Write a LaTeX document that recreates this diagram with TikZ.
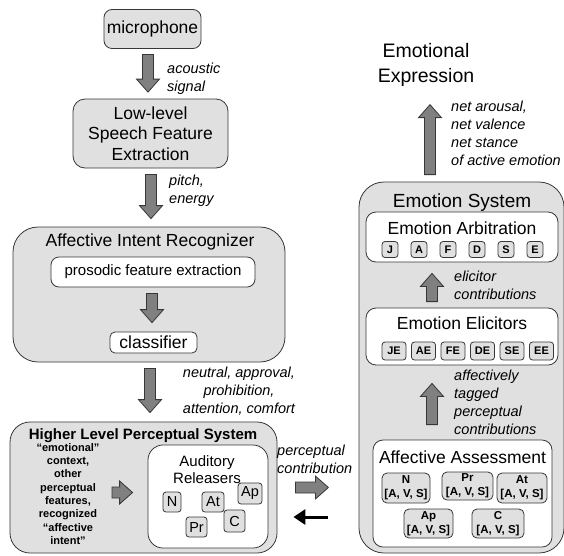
\documentclass[tikz,border=0pt]{standalone}
\usepackage{fontspec}
\setmainfont{Liberation Sans}
\usetikzlibrary{arrows.meta,calc,positioning}
\definecolor{boxgray}{RGB}{224,224,224}
\definecolor{arrowgray}{RGB}{128,128,128}
\definecolor{edgegray}{RGB}{55,55,55}
\tikzset{%
  >={Triangle[width=15pt,length=12pt]},
  % Specifications for style of nodes:
            base/.style = {rectangle, draw=edgegray, line width=0.8pt,
                           text centered, inner sep=0pt},
         graybox/.style = {base, rounded corners=8pt, fill=boxgray},
        whitebox/.style = {base, rounded corners=10pt, fill=white},
          relbox/.style = {base, rounded corners=3pt, fill=boxgray,
                           minimum height=20pt, font=\fontsize{14.5}{16}\selectfont},
       letterbox/.style = {base, rounded corners=3pt, fill=boxgray, minimum height=16pt,
                           minimum width=16pt, font=\fontsize{11}{13}\selectfont\bfseries},
        avsbox/.style   = {base, rounded corners=5pt, fill=boxgray, align=center,
                           font=\fontsize{11.5}{14}\selectfont\bfseries},
           title/.style = {font=\fontsize{17.5}{20.5}\selectfont, align=center},
            note/.style = {font=\fontsize{14.5}{18}\selectfont\itshape, align=left,
                           inner sep=0pt},
  fatarrow/.style = {fill=arrowgray, draw=edgegray, line width=0.8pt},
}
% fat block arrow from #2 to #3
\newcommand{\fatarrow}[3][]{%
  \coordinate (fa-s) at #2;
  \coordinate (fa-e) at #3;
  \coordinate (fa-h) at ($(fa-e)!13pt!(fa-s)$);
  \filldraw[fatarrow,#1] ($(fa-s)!5.5pt!90:(fa-e)$) -- ($(fa-h)!5.5pt!90:(fa-e)$)
    -- ($(fa-h)!11.5pt!90:(fa-e)$) -- (fa-e) -- ($(fa-h)!11.5pt!-90:(fa-e)$)
    -- ($(fa-h)!5.5pt!-90:(fa-e)$) -- ($(fa-s)!5.5pt!-90:(fa-e)$) -- cycle;}

\begin{document}
\begin{tikzpicture}[x=1pt, y=-1pt, node distance=29pt]
  \useasboundingbox (0,0) rectangle (564,555);
  % Left column: speech processing
  \node (mic)        [graybox, title, minimum width=97pt, minimum height=39pt] at (152.5,29) {microphone};
  \node (lowlevel)   [graybox, title, rounded corners=12pt, minimum width=155pt, minimum height=69pt]
                     at (150.5,133.5) {Low-level\\Speech Feature\\Extraction};
  \node (air)        [graybox, rounded corners=25pt, minimum width=272pt, minimum height=135pt] at (149,294.5) {};
  \node (airtitle)   [title] at (150,242) {Affective Intent Recognizer};
  \node (prosodic)   [whitebox, rounded corners=8pt, minimum width=204pt, minimum height=30pt,
                      font=\fontsize{15}{17}\selectfont] at (153,272) {prosodic feature extraction};
  \node (classifier) [whitebox, title, rounded corners=5pt, minimum width=87pt, minimum height=21pt]
                     at (153.5,342.5) {classifier};

  \node (hlps)       [graybox, rounded corners=20pt, minimum width=267pt, minimum height=131pt] at (143.5,487.5) {};
  \node (hlpstitle)  [font=\fontsize{15}{17}\selectfont\bfseries] at (143,436) {Higher Level Perceptual System};
  \node (context)    [align=center, font=\fontsize{11}{13.3}\selectfont\bfseries] at (68,494)
                     {“emotional”\\context,\\other\\perceptual\\features,\\recognized\\“affective\\intent”};
  \node (rel)        [whitebox, rounded corners=15pt, minimum width=120pt, minimum height=103pt] at (208,496.5) {};
  \node (reltitle)   [align=center, font=\fontsize{15}{17}\selectfont] at (207,469.5) {Auditory\\Releasers};
  \node (rn)         [relbox, minimum width=18pt] at (172,502) {N};
  \node (rat)        [relbox, minimum width=22pt] at (213,502) {At};
  \node (rap)        [relbox, minimum width=24pt, minimum height=21pt] at (250,493.5) {Ap};
  \node (rpr)        [relbox, minimum width=21pt] at (196.5,527) {Pr};
  \node (rc)         [relbox, minimum width=21pt, minimum height=22pt] at (234.5,521) {C};

  % Right column: emotion system
  \node (expr)       [align=center, font=\fontsize{19.5}{25}\selectfont] at (426,64.5) {Emotional\\Expression};
  \node (es)         [graybox, rounded corners=25pt, minimum width=205pt, minimum height=371pt] at (461.5,367.5) {};
  \node (estitle)    [font=\fontsize{19}{22}\selectfont] at (462,203) {Emotion System};

  \node (arb)        [whitebox, minimum width=192pt, minimum height=50pt] at (462,237) {};
  \node (arbtitle)   [title] at (462,228) {Emotion Arbitration};
  \node (j)          [letterbox] at (390,249.5) {J};
  \node (a)          [letterbox, right of=j] {A};
  \node (f)          [letterbox, right of=a] {F};
  \node (d)          [letterbox, right of=f] {D};
  \node (s)          [letterbox, right of=d] {S};
  \node (e)          [letterbox, right of=s] {E};

  \node (elic)       [whitebox, minimum width=192pt, minimum height=57pt] at (462,336.5) {};
  \node (elictitle)  [title] at (462,323) {Emotion Elicitors};
  \begin{scope}[node distance=29.5pt, every node/.style={letterbox, minimum width=24pt, minimum height=18pt}]
    \node (je) at (394,351) {JE};
    \node (ae) [right of=je] {AE};
    \node (fe) [right of=ae] {FE};
    \node (de) [right of=fe] {DE};
    \node (se) [right of=de] {SE};
    \node (ee) [right of=se] {EE};
  \end{scope}

  \node (assess)     [whitebox, minimum width=179pt, minimum height=107pt] at (462.5,493.5) {};
  \node (assesstitle)[title] at (462.5,457) {Affective Assessment};
  \node (an)         [avsbox, minimum width=48pt, minimum height=30pt] at (406,488) {N\\{[A, V, S]}};
  \node (apr)        [avsbox, minimum width=51pt, minimum height=28pt] at (467.5,486) {Pr\\{[A, V, S]}};
  \node (aat)        [avsbox, minimum width=50pt, minimum height=30pt] at (522,488) {At\\{[A, V, S]}};
  \node (aap)        [avsbox, minimum width=49pt, minimum height=29pt] at (428.5,523.5) {Ap\\{[A, V, S]}};
  \node (ac)         [avsbox, minimum width=52pt, minimum height=29pt] at (498,523.5) {C\\{[A, V, S]}};

  % Arrows
  \fatarrow{($(mic.south)+(-4.5,5.5)$)}{($(lowlevel.north)+(-2.5,-6.5)$)}
  \fatarrow{($(lowlevel.south)+(0.5,6)$)}{($(air.north)+(2,-8)$)}
  \fatarrow{($(prosodic.south)+(-1,6)$)}{($(classifier.north)+(-1.5,-9)$)}
  \fatarrow{($(air.south)+(1,6)$)}{($(hlps.north)+(6.5,-9)$)}
  \fatarrow{($(context.east)+(9,-1.5)$)}{($(rel.west)+(-15,-4)$)}
  \fatarrow{($(hlps.east)+(18,0)$)}{($(hlps.east)+(51,0)$)}
  \draw[->, line width=3pt, black] ($(hlps.east)+(51,29.5)$) -- ($(hlps.east)+(16,29.5)$);
  \fatarrow{($(elic.north)+(-30,-6)$)}{($(arb.south)+(-30,11)$)}
  \fatarrow{($(assess.north)+(-30.5,-15)$)}{($(elic.south)+(-30,18)$)}
  \fatarrow{($(es.north)+(-31.5,-7)$)}{($(expr.south)+(4,15)$)}

  % Arrow labels
  \node (acoustic)   [note, anchor=west] at (167,79) {acoustic\\signal};
  \node (pitch)      [note, anchor=west] at (169,191) {pitch,\\energy};
  \node (classes)    [note, align=center] at (239,391) {neutral, approval,\\prohibition,\\attention, comfort};
  \node (perc)       [note, anchor=west] at (277,459) {perceptual\\contribution};
  \node (net)        [note, anchor=west] at (451,133.5) {net arousal,\\net valence\\net stance\\of active emotion};
  \node (elicitor)   [note, anchor=west] at (454,285.5) {elicitor\\contributions};
  \node (tagged)     [note, anchor=west] at (454,402.5) {affectively\\tagged\\perceptual\\contributions};
\end{tikzpicture}
\end{document}
